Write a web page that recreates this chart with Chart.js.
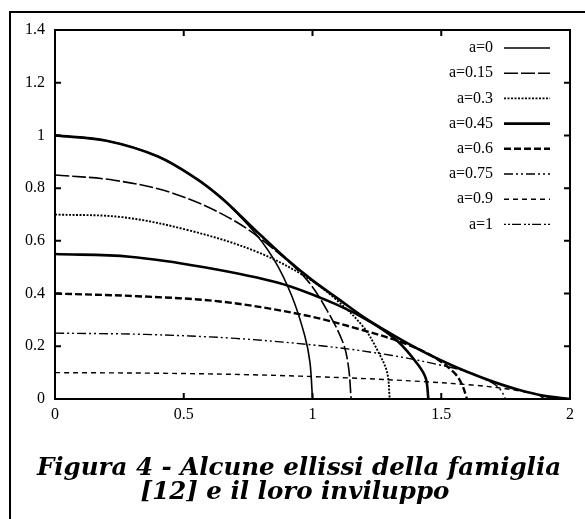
<!DOCTYPE html>
<html>
<head>
<meta charset="utf-8">
<script src="https://cdn.jsdelivr.net/npm/chart.js@4"></script>
<style>
  html, body { margin: 0; padding: 0; background: #fff; }
  #wrap { position: relative; width: 585px; height: 519px; overflow: hidden; }
  #box { position: absolute; left: 9px; top: 11px; width: 600px; height: 540px; border: 2px solid #000; box-sizing: border-box; }
  .cap { position: absolute; left: 0; width: 598px; font-family: "DejaVu Serif", serif; font-weight: bold; font-style: italic; font-size: 24.5px; white-space: nowrap; text-align: center; line-height: 24px; }
</style>
</head>
<body>
<div id="wrap">
  <div id="box"></div>
  <canvas id="myChart" width="585" height="519" style="position:absolute;left:0;top:0"></canvas>
  <div class="cap" style="top:455px">Figura 4 - Alcune ellissi della famiglia</div>
  <div class="cap" style="top:479px;width:590px">[12] e il loro inviluppo</div>
</div>
<script>
const labels = ['a=0', 'a=0.15', 'a=0.3', 'a=0.45', 'a=0.6', 'a=0.75', 'a=0.9', 'a=1'];

const x_a0 = [0, 0.2, 0.4, 0.6, 0.75, 0.85, 0.92, 0.97, 0.99, 1];
const y_a0 = [1, 0.98, 0.92, 0.8, 0.66, 0.53, 0.39, 0.24, 0.14, 0];
const x_a15 = [0, 0.23, 0.46, 0.69, 0.86, 0.98, 1.06, 1.12, 1.14, 1.15];
const y_a15 = [0.85, 0.83, 0.78, 0.68, 0.56, 0.45, 0.33, 0.21, 0.12, 0];
const x_a30 = [0, 0.26, 0.52, 0.78, 0.98, 1.1, 1.2, 1.26, 1.29, 1.3];
const y_a30 = [0.7, 0.69, 0.64, 0.56, 0.46, 0.37, 0.27, 0.17, 0.1, 0];
const x_a45 = [0, 0.29, 0.58, 0.87, 1.09, 1.23, 1.33, 1.41, 1.44, 1.45];
const y_a45 = [0.55, 0.54, 0.5, 0.44, 0.36, 0.29, 0.22, 0.13, 0.078, 0];
const x_a60 = [0, 0.32, 0.64, 0.96, 1.2, 1.36, 1.47, 1.55, 1.58, 1.6];
const y_a60 = [0.4, 0.39, 0.37, 0.32, 0.26, 0.21, 0.16, 0.1, 0.056, 0];
const x_a75 = [0, 0.35, 0.7, 1.05, 1.31, 1.49, 1.61, 1.7, 1.73, 1.75];
const y_a75 = [0.25, 0.245, 0.23, 0.2, 0.165, 0.13, 0.1, 0.06, 0.035, 0];
const x_a90 = [0, 0.38, 0.76, 1.14, 1.43, 1.62, 1.75, 1.84, 1.88, 1.9];
const y_a90 = [0.1, 0.098, 0.092, 0.08, 0.066, 0.053, 0.039, 0.024, 0.014, 0];
const x_a100 = [0, 2];
const y_a100 = [0, 0];

// inviluppo
const x_env = [0, 0.2, 0.4, 0.55, 0.65, 0.71, 0.8, 0.9, 1.0, 1.1, 1.2, 1.3, 1.4, 1.5, 1.6, 1.7, 1.8, 1.9, 2.0];
const y_env = [1, 0.98, 0.92, 0.835, 0.76, 0.705, 0.62, 0.53, 0.45, 0.38, 0.31, 0.25, 0.195, 0.146, 0.103, 0.066, 0.035, 0.012, 0];

const xTicks = [0, 0.5, 1, 1.5, 2];
const xTickLabels = ['0', '0.5', '1', '1.5', '2'];
const yTicks = [0, 0.2, 0.4, 0.6, 0.8, 1, 1.2, 1.4];
const yTickLabels = ['0', '0.2', '0.4', '0.6', '0.8', '1', '1.2', '1.4'];

const pts = (xs, ys) => xs.map((v, i) => ({ x: v, y: ys[i] }));

const styles = [
  { w: 1.6, dash: [] },
  { w: 1.6, dash: [14, 3] },
  { w: 1.9, dash: [2, 1.5] },
  { w: 2.6, dash: [] },
  { w: 2.4, dash: [7, 3] },
  { w: 1.4, dash: [9, 3, 2, 3, 2, 3] },
  { w: 1.4, dash: [5, 4] },
  { w: 1.4, dash: [2, 2, 2, 2, 9, 3] },
];

const series = [
  pts(x_a0, y_a0), pts(x_a15, y_a15), pts(x_a30, y_a30), pts(x_a45, y_a45),
  pts(x_a60, y_a60), pts(x_a75, y_a75), pts(x_a90, y_a90), pts(x_a100, y_a100),
];

const datasets = series.map((d, i) => ({
  label: labels[i],
  data: d,
  borderColor: '#000',
  borderWidth: styles[i].w,
  borderDash: styles[i].dash,
  showLine: true,
  pointRadius: 0,
  tension: 0.35,
}));
datasets.unshift({
  label: '',
  data: pts(x_env, y_env),
  borderColor: '#000',
  borderWidth: 2.7,
  showLine: true,
  pointRadius: 0,
  tension: 0.35,
});

const frame = {
  id: 'frame',
  afterDraw(chart) {
    const { ctx, chartArea: a, scales: { x, y } } = chart;
    ctx.save();
    ctx.strokeStyle = '#000';
    ctx.fillStyle = '#000';
    ctx.lineWidth = 2;
    ctx.setLineDash([]);
    ctx.strokeRect(a.left, a.top, a.right - a.left, a.bottom - a.top);

    ctx.font = '16px "Liberation Serif"';
    ctx.textAlign = 'center';
    ctx.textBaseline = 'middle';
    xTicks.forEach((v, i) => {
      const px = x.getPixelForValue(v);
      ctx.beginPath();
      ctx.moveTo(px, a.bottom); ctx.lineTo(px, a.bottom - 6);
      ctx.moveTo(px, a.top); ctx.lineTo(px, a.top + 6);
      ctx.stroke();
      ctx.fillText(xTickLabels[i], px, a.bottom + 16);
    });
    ctx.textAlign = 'right';
    yTicks.forEach((v, i) => {
      const py = y.getPixelForValue(v);
      ctx.beginPath();
      ctx.moveTo(a.left, py); ctx.lineTo(a.left + 6, py);
      ctx.moveTo(a.right, py); ctx.lineTo(a.right - 6, py);
      ctx.stroke();
      ctx.fillText(yTickLabels[i], a.left - 10, py);
    });

    // legenda
    labels.forEach((lab, i) => {
      const ly = a.top + 18 + i * 25.2;
      ctx.fillText(lab, a.right - 77, ly);
      ctx.beginPath();
      ctx.lineWidth = styles[i].w;
      ctx.setLineDash(styles[i].dash);
      ctx.moveTo(a.right - 66, ly); ctx.lineTo(a.right - 20, ly);
      ctx.stroke();
    });
    ctx.restore();
  },
};

const ctx = document.getElementById('myChart').getContext('2d');
const myChart = new Chart(ctx, {
  type: 'scatter',
  data: { datasets },
  options: {
    responsive: false,
    animation: false,
    layout: { padding: { left: 55, right: 15, top: 30, bottom: 120 } },
    plugins: { legend: { display: false }, tooltip: { enabled: false } },
    scales: {
      x: { display: false, min: 0, max: 2 },
      y: { display: false, min: 0, max: 1.4 },
    },
  },
  plugins: [frame],
});
</script>
</body>
</html>
